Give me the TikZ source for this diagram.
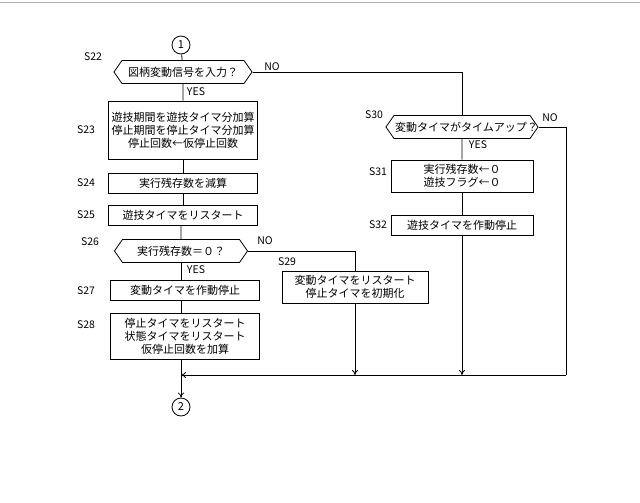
\documentclass[tikz,border=0pt]{standalone}
\usepackage{fontspec}
\setmainfont{Noto Sans CJK JP}
\usetikzlibrary{shapes.symbols,arrows.meta}
\tikzset{
  stepbox/.style={draw,thick,minimum height=20pt,text width=145pt,align=center,inner sep=2pt,font=\fontsize{11}{13}\selectfont},
  decide/.style={draw,thick,shape=signal,signal to=west and east,signal pointer angle=110,minimum height=23pt,text width=120pt,align=center,inner sep=1pt,font=\fontsize{11}{13}\selectfont},
  conn/.style={draw,thick,circle,inner sep=1pt,minimum size=18pt,font=\fontsize{11}{13}\selectfont},
  lbl/.style={font=\fontsize{10.5}{12}\selectfont},
  flow/.style={thick},
  tip/.style={thick,-{To[length=5pt,width=6pt]}}
}
\begin{document}
\begin{tikzpicture}[x=1pt,y=-1pt]
\useasboundingbox (0,0) rectangle (640,503);
\draw[gray!60] (0,2) -- (640,2);
% Nodi
\node[conn] (c1) at (181,45) {1};
\node[decide] (s22) at (183,72) {図柄変動信号を入力？};
\node[stepbox,minimum height=58pt] (s23) at (183,130) {遊技期間を遊技タイマ分加算\\停止期間を停止タイマ分加算\\停止回数←仮停止回数};
\node[stepbox] (s24) at (183,183) {実行残存数を減算};
\node[stepbox] (s25) at (183,215) {遊技タイマをリスタート};
\node[decide,text width=115pt] (s26) at (181,251) {実行残存数＝０？};
\node[stepbox] (s27) at (185,290) {変動タイマを作動停止};
\node[stepbox,minimum height=46pt] (s28) at (185,336) {停止タイマをリスタート\\状態タイマをリスタート\\仮停止回数を加算};
\node[stepbox,text width=142pt,minimum height=32pt] (s29) at (355,287) {変動タイマをリスタート\\停止タイマを初期化};
\node[decide,text width=134pt] (s30) at (462,127) {変動タイマがタイムアップ？};
\node[stepbox,text width=138pt,minimum height=32pt] (s31) at (462,176) {実行残存数←０\\遊技フラグ←０};
\node[stepbox,text width=138pt] (s32) at (462,225) {遊技タイマを作動停止};
\node[conn] (c2) at (181,407) {2};
\coordinate (m1) at (181,375);
\coordinate (m2) at (355,375);
\coordinate (m3) at (462,375);
\coordinate (m4) at (566,375);
% Etichette
\node[lbl] at (93,57) {S22};
\node[lbl] at (86,130) {S23};
\node[lbl] at (86,183) {S24};
\node[lbl] at (86,215) {S25};
\node[lbl] at (90,242) {S26};
\node[lbl] at (86,291) {S27};
\node[lbl] at (86,325) {S28};
\node[lbl] at (287,262) {S29};
\node[lbl] at (374,115) {S30};
\node[lbl] at (378,172) {S31};
\node[lbl] at (378,225) {S32};
\node[lbl] at (272,67) {NO};
\node[lbl] at (265,241) {NO};
\node[lbl] at (550,118) {NO};
\node[lbl] at (196,92) {YES};
\node[lbl] at (196,270) {YES};
\node[lbl] at (478,145) {YES};
% Collegamenti
\draw[flow] (c1) -- (s22);
\draw[flow] (s22) -- (s23);
\draw[flow] (s23) -- (s24);
\draw[flow] (s24) -- (s25);
\draw[flow] (s25.south -| s26) -- (s26);
\draw[flow] (s26.south) -- (s26.south |- s27.north);
\draw[flow] (s27.south -| s26) -- (s28.north -| s26);
\draw[flow] (s22.east) -| (s30.north);
\draw[flow] (s30) -- (s31);
\draw[flow] (s31) -- (s32);
\draw[flow] (s26.east) -| (s29.north);
\draw[tip] (s29) -- (m2);
\draw[tip] (s32) -- (m3);
\draw[flow] (s30.east) -| (m4);
\draw[tip] (m4) -- (m1);
\draw[tip] (s28.south -| m1) -- (c2);
\end{tikzpicture}
\end{document}
